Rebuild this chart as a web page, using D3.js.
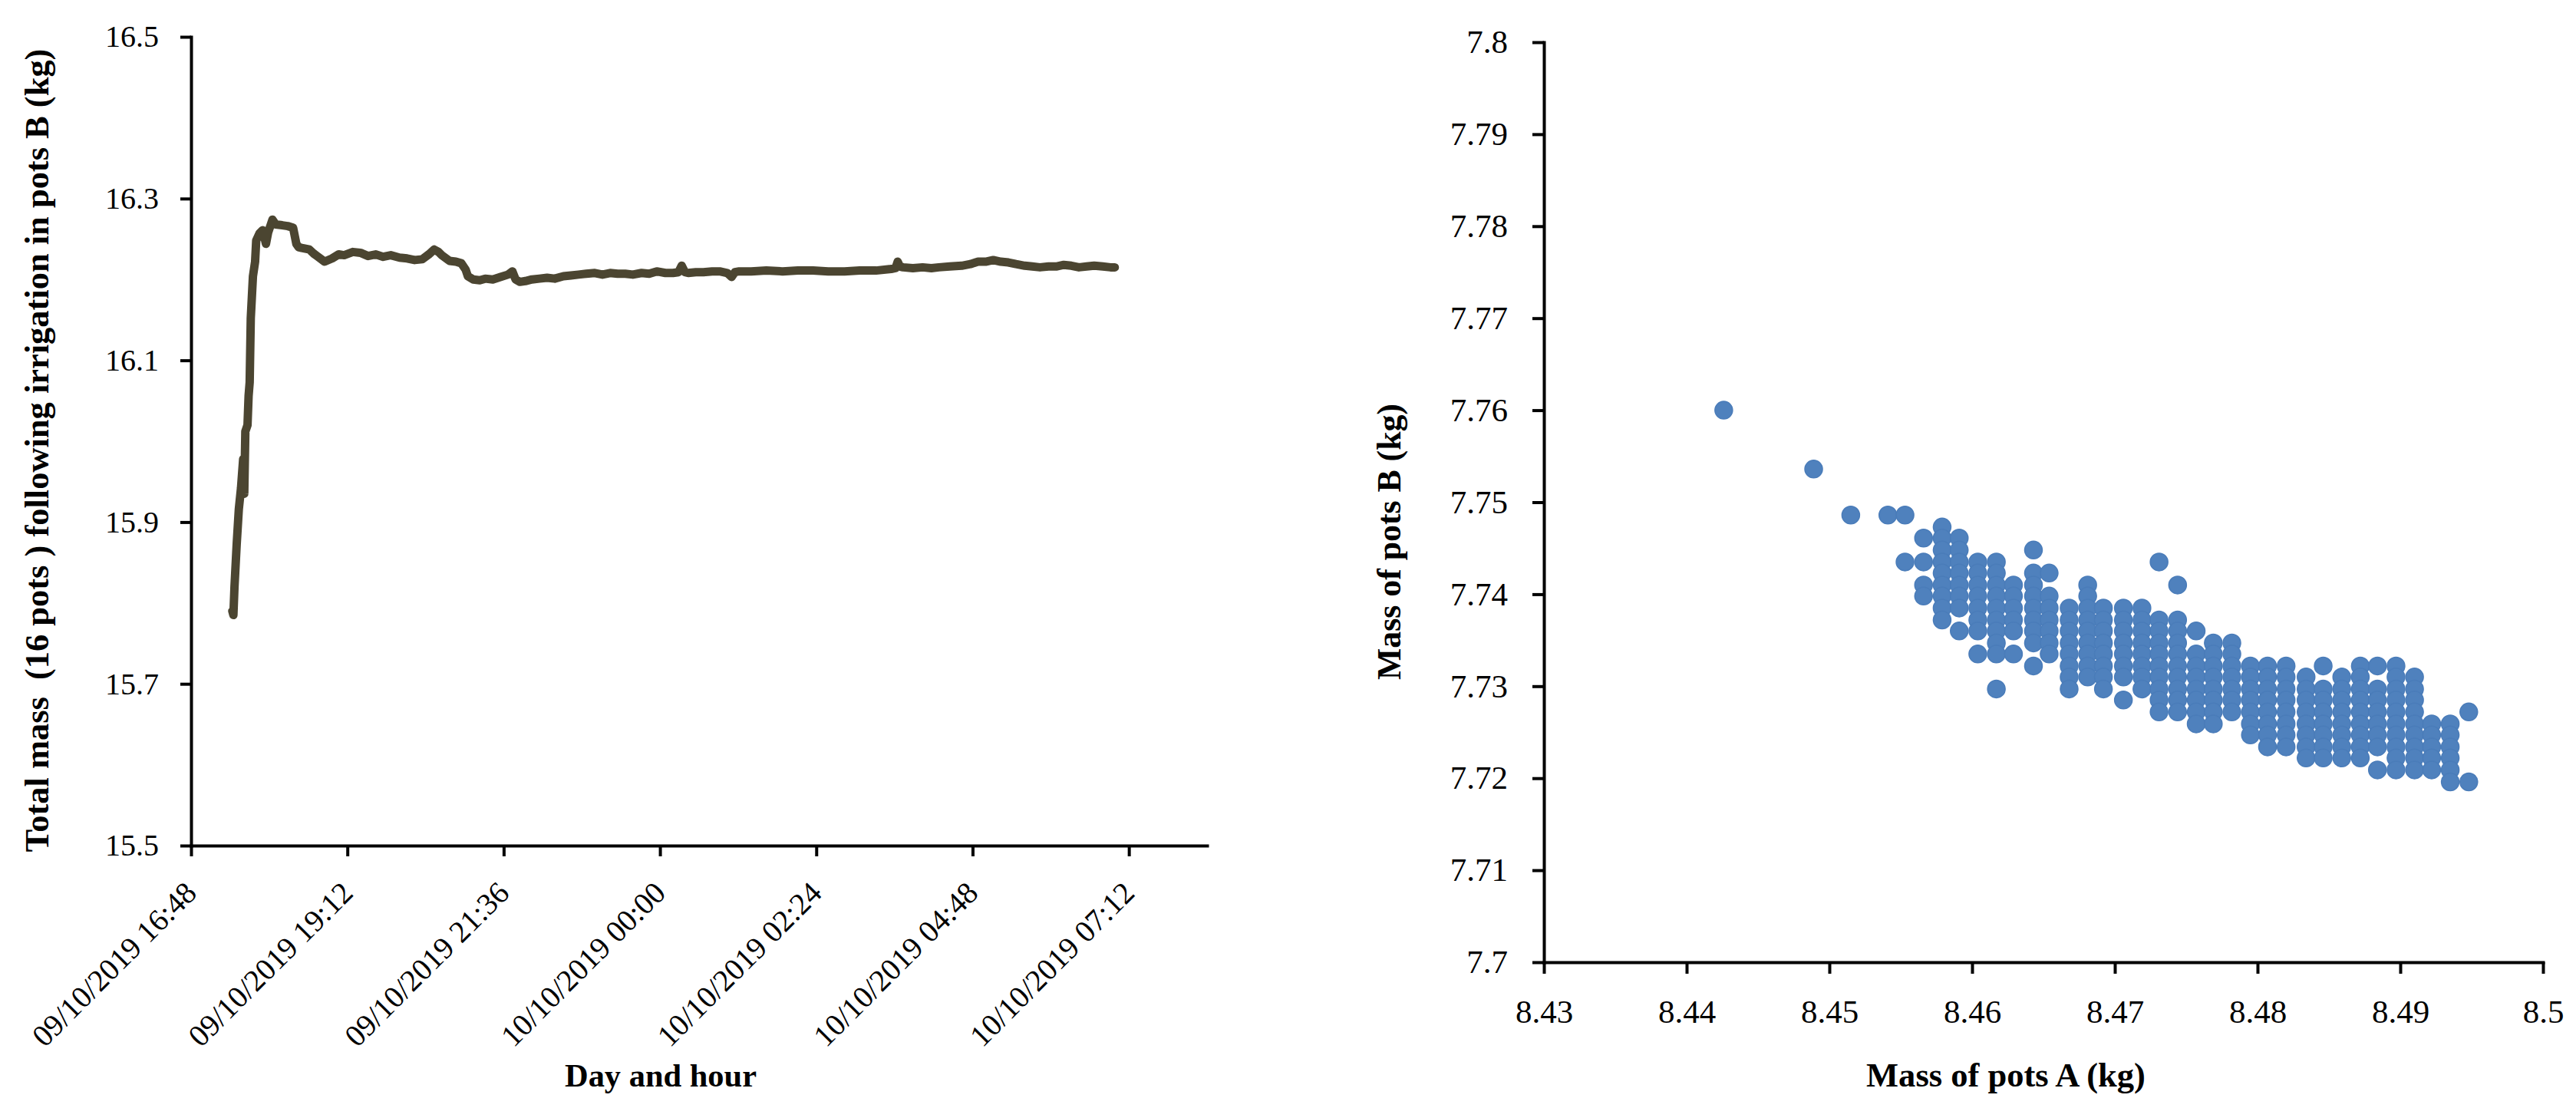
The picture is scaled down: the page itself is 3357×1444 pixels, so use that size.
<!DOCTYPE html>
<html>
<head>
<meta charset="utf-8">
<script src="https://cdn.jsdelivr.net/npm/d3@7"></script>
<style>
body { margin: 0; background: #fff; }
text { font-family: "Liberation Serif", "DejaVu Serif", serif; fill: #000; }
</style>
</head>
<body>
<script>

// left chart: total mass of pots B after irrigation
var lineTimes = [
    '2019-10-09 17:26', '2019-10-09 17:27', '2019-10-09 17:28', '2019-10-09 17:30', '2019-10-09 17:32',
    '2019-10-09 17:34', '2019-10-09 17:36', '2019-10-09 17:37', '2019-10-09 17:38', '2019-10-09 17:40',
    '2019-10-09 17:41', '2019-10-09 17:42', '2019-10-09 17:43', '2019-10-09 17:44', '2019-10-09 17:45',
    '2019-10-09 17:47', '2019-10-09 17:48', '2019-10-09 17:51', '2019-10-09 17:54', '2019-10-09 17:57',
    '2019-10-09 17:59', '2019-10-09 18:03', '2019-10-09 18:06', '2019-10-09 18:12', '2019-10-09 18:17',
    '2019-10-09 18:22', '2019-10-09 18:25', '2019-10-09 18:27', '2019-10-09 18:30', '2019-10-09 18:37',
    '2019-10-09 18:41', '2019-10-09 18:44', '2019-10-09 18:51', '2019-10-09 18:58', '2019-10-09 19:04',
    '2019-10-09 19:09', '2019-10-09 19:17', '2019-10-09 19:24', '2019-10-09 19:31', '2019-10-09 19:38',
    '2019-10-09 19:45', '2019-10-09 19:52', '2019-10-09 20:00', '2019-10-09 20:07', '2019-10-09 20:14',
    '2019-10-09 20:21', '2019-10-09 20:27', '2019-10-09 20:32', '2019-10-09 20:36', '2019-10-09 20:39',
    '2019-10-09 20:46', '2019-10-09 20:52', '2019-10-09 20:57', '2019-10-09 21:01', '2019-10-09 21:03',
    '2019-10-09 21:08', '2019-10-09 21:14', '2019-10-09 21:19', '2019-10-09 21:26', '2019-10-09 21:33',
    '2019-10-09 21:40', '2019-10-09 21:44', '2019-10-09 21:47', '2019-10-09 21:51', '2019-10-09 21:56',
    '2019-10-09 22:02', '2019-10-09 22:09', '2019-10-09 22:16', '2019-10-09 22:23', '2019-10-09 22:31',
    '2019-10-09 22:38', '2019-10-09 22:45', '2019-10-09 22:52', '2019-10-09 23:00', '2019-10-09 23:07',
    '2019-10-09 23:14', '2019-10-09 23:21', '2019-10-09 23:28', '2019-10-09 23:35', '2019-10-09 23:43',
    '2019-10-09 23:50', '2019-10-09 23:57', '2019-10-10 00:05', '2019-10-10 00:12', '2019-10-10 00:17',
    '2019-10-10 00:20', '2019-10-10 00:23', '2019-10-10 00:26', '2019-10-10 00:33', '2019-10-10 00:40',
    '2019-10-10 00:48', '2019-10-10 00:55', '2019-10-10 01:02', '2019-10-10 01:06', '2019-10-10 01:09',
    '2019-10-10 01:13', '2019-10-10 01:24', '2019-10-10 01:38', '2019-10-10 01:53', '2019-10-10 02:07',
    '2019-10-10 02:21', '2019-10-10 02:35', '2019-10-10 02:50', '2019-10-10 03:04', '2019-10-10 03:19',
    '2019-10-10 03:33', '2019-10-10 03:37', '2019-10-10 03:39', '2019-10-10 03:41', '2019-10-10 03:44',
    '2019-10-10 03:53', '2019-10-10 04:02', '2019-10-10 04:10', '2019-10-10 04:17', '2019-10-10 04:27',
    '2019-10-10 04:38', '2019-10-10 04:46', '2019-10-10 04:53', '2019-10-10 05:00', '2019-10-10 05:07',
    '2019-10-10 05:14', '2019-10-10 05:21', '2019-10-10 05:28', '2019-10-10 05:36', '2019-10-10 05:43',
    '2019-10-10 05:50', '2019-10-10 05:58', '2019-10-10 06:05', '2019-10-10 06:12', '2019-10-10 06:19',
    '2019-10-10 06:26', '2019-10-10 06:33', '2019-10-10 06:40', '2019-10-10 06:48', '2019-10-10 06:55',
    '2019-10-10 06:59'
];
var lineMass = [
    15.790, 15.785, 15.820, 15.872, 15.916,
    15.942, 15.978, 15.935, 16.012, 16.020,
    16.056, 16.073, 16.152, 16.178, 16.204,
    16.222, 16.248, 16.257, 16.261, 16.244,
    16.258, 16.274, 16.268, 16.267, 16.266,
    16.264, 16.244, 16.240, 16.239, 16.237,
    16.232, 16.229, 16.222, 16.226, 16.231,
    16.230, 16.234, 16.233, 16.229, 16.231,
    16.228, 16.230, 16.227, 16.226, 16.224,
    16.225, 16.231, 16.237, 16.234, 16.230,
    16.223, 16.222, 16.220, 16.212, 16.204,
    16.200, 16.199, 16.201, 16.200, 16.203,
    16.206, 16.210, 16.200, 16.197, 16.198,
    16.200, 16.201, 16.202, 16.201, 16.204,
    16.205, 16.206, 16.207, 16.208, 16.206,
    16.208, 16.207, 16.207, 16.206, 16.208,
    16.207, 16.210, 16.208, 16.208, 16.209,
    16.217, 16.209, 16.208, 16.209, 16.209,
    16.210, 16.210, 16.208, 16.203, 16.209,
    16.210, 16.210, 16.211, 16.210, 16.211,
    16.211, 16.210, 16.210, 16.211, 16.211,
    16.213, 16.214, 16.222, 16.216, 16.215,
    16.214, 16.215, 16.214, 16.215, 16.216,
    16.217, 16.219, 16.222, 16.222, 16.224,
    16.222, 16.221, 16.219, 16.217, 16.216,
    16.215, 16.216, 16.216, 16.218, 16.217,
    16.215, 16.216, 16.217, 16.216, 16.215,
    16.215
];
var timeDomain = ['2019-10-09 16:48', '2019-10-10 08:24'];
var timeTicks = ['2019-10-09 16:48', '2019-10-09 19:12', '2019-10-09 21:36', '2019-10-10 00:00',
                 '2019-10-10 02:24', '2019-10-10 04:48', '2019-10-10 07:12'];
var massTicks = [15.5, 15.7, 15.9, 16.1, 16.3, 16.5];

// right chart: mass of pots A vs mass of pots B (one column per reading of A)
var potsA = [8.4426, 8.4489, 8.4515, 8.4541, 8.4553, 8.4566, 8.4579, 8.4591, 8.4604, 8.4617,
             8.4629, 8.4643, 8.4654, 8.4668, 8.4681, 8.4692, 8.4706, 8.4719, 8.4731, 8.4744,
             8.4757, 8.4769, 8.4782, 8.4795, 8.4807, 8.4820, 8.4834, 8.4846, 8.4859, 8.4872,
             8.4884, 8.4897, 8.4910, 8.4922, 8.4935, 8.4948];
var potsB = [
    [7.7600],
    [7.7536],
    [7.7486],
    [7.7486],
    [7.7486, 7.7435],
    [7.7461, 7.7435, 7.7410, 7.7398],
    [7.7473, 7.7461, 7.7448, 7.7435, 7.7423, 7.7410, 7.7398, 7.7385, 7.7372],
    [7.7461, 7.7448, 7.7435, 7.7423, 7.7410, 7.7398, 7.7385, 7.7360],
    [7.7435, 7.7423, 7.7410, 7.7398, 7.7385, 7.7372, 7.7360, 7.7335],
    [7.7435, 7.7423, 7.7410, 7.7398, 7.7385, 7.7372, 7.7360, 7.7347, 7.7335, 7.7297],
    [7.7410, 7.7398, 7.7385, 7.7372, 7.7360, 7.7335],
    [7.7448, 7.7423, 7.7410, 7.7398, 7.7385, 7.7372, 7.7360, 7.7347, 7.7322],
    [7.7423, 7.7398, 7.7385, 7.7372, 7.7360, 7.7347, 7.7335],
    [7.7385, 7.7372, 7.7360, 7.7347, 7.7335, 7.7322, 7.7310, 7.7297],
    [7.7410, 7.7398, 7.7385, 7.7372, 7.7360, 7.7347, 7.7335, 7.7322, 7.7310],
    [7.7385, 7.7372, 7.7360, 7.7347, 7.7335, 7.7322, 7.7310, 7.7297],
    [7.7385, 7.7372, 7.7360, 7.7347, 7.7335, 7.7322, 7.7310, 7.7285],
    [7.7385, 7.7372, 7.7360, 7.7347, 7.7335, 7.7322, 7.7310, 7.7297],
    [7.7435, 7.7372, 7.7360, 7.7347, 7.7335, 7.7322, 7.7310, 7.7297, 7.7285, 7.7272],
    [7.7410, 7.7372, 7.7360, 7.7347, 7.7335, 7.7322, 7.7310, 7.7297, 7.7285, 7.7272],
    [7.7360, 7.7335, 7.7322, 7.7310, 7.7297, 7.7285, 7.7272, 7.7259],
    [7.7347, 7.7335, 7.7322, 7.7310, 7.7297, 7.7285, 7.7272, 7.7259],
    [7.7347, 7.7335, 7.7322, 7.7310, 7.7297, 7.7285, 7.7272],
    [7.7322, 7.7310, 7.7297, 7.7285, 7.7272, 7.7259, 7.7247],
    [7.7322, 7.7310, 7.7297, 7.7285, 7.7272, 7.7259, 7.7247, 7.7234],
    [7.7322, 7.7310, 7.7297, 7.7285, 7.7272, 7.7259, 7.7247, 7.7234],
    [7.7310, 7.7297, 7.7285, 7.7272, 7.7259, 7.7247, 7.7234, 7.7222],
    [7.7322, 7.7297, 7.7285, 7.7272, 7.7259, 7.7247, 7.7234, 7.7222],
    [7.7310, 7.7297, 7.7285, 7.7272, 7.7259, 7.7247, 7.7234, 7.7222],
    [7.7322, 7.7310, 7.7297, 7.7285, 7.7272, 7.7259, 7.7247, 7.7234, 7.7222],
    [7.7322, 7.7297, 7.7285, 7.7272, 7.7259, 7.7247, 7.7234, 7.7209],
    [7.7322, 7.7310, 7.7297, 7.7285, 7.7272, 7.7259, 7.7247, 7.7234, 7.7222, 7.7209],
    [7.7310, 7.7297, 7.7285, 7.7272, 7.7259, 7.7247, 7.7234, 7.7222, 7.7209],
    [7.7259, 7.7247, 7.7234, 7.7222, 7.7209],
    [7.7259, 7.7247, 7.7234, 7.7222, 7.7209, 7.7196],
    [7.7272, 7.7196]
];
var potsATicks = [8.43, 8.44, 8.45, 8.46, 8.47, 8.48, 8.49, 8.5];
var potsBTicks = [7.7, 7.71, 7.72, 7.73, 7.74, 7.75, 7.76, 7.77, 7.78, 7.79, 7.8];


var svg = d3.select('body').append('svg')
    .attr('width', 3357)
    .attr('height', 1444);

drawLine();
drawScatter();


function styleAxis(g, fontSize) {
    g.attr('font-family', null).attr('font-size', null);
    g.select('.domain').attr('stroke', '#000').attr('stroke-width', 4).attr('stroke-linecap', 'square');
    g.selectAll('.tick line').attr('stroke', '#000').attr('stroke-width', 4);
    g.selectAll('.tick text').attr('font-size', fontSize).attr('fill', '#000');
}

// grow or shrink the font so the title covers the same length as in the figure
function fitTitle(text, target) {
    var len = text.node().getComputedTextLength();
    var fs = parseFloat(text.attr('font-size'));
    text.attr('font-size', fs * target / len);
}

function drawLine() {

    var parse = d3.timeParse('%Y-%m-%d %H:%M');
    var data = lineTimes.map(function(t, i) { return { t: parse(t), m: lineMass[i] }; });

    var x = d3.scaleTime()
        .domain(timeDomain.map(parse))
        .range([249, 1573]);

    var y = d3.scaleLinear()
        .domain([15.5, 16.5])
        .range([1102, 48]);

    var xAxis = svg.append('g')
        .attr('transform', 'translate(0,1102)')
        .call(d3.axisBottom(x)
            .tickValues(timeTicks.map(parse))
            .tickFormat(d3.timeFormat('%d/%m/%Y %H:%M'))
            .tickSize(14)
            .tickSizeOuter(0));
    styleAxis(xAxis, 40);
    xAxis.selectAll('.tick text')
        .attr('x', 0)
        .attr('y', 0)
        .attr('dy', null)
        .attr('text-anchor', 'end')
        .attr('transform', 'translate(9,64) rotate(-45)');

    var yAxis = svg.append('g')
        .attr('transform', 'translate(249,0)')
        .call(d3.axisLeft(y)
            .tickValues(massTicks)
            .tickFormat(d3.format('.1f'))
            .tickSize(14)
            .tickPadding(28)
            .tickSizeOuter(0));
    styleAxis(yAxis, 40);

    var line = d3.line()
        .x(function(d) { return x(d.t); })
        .y(function(d) { return y(d.m); });

    svg.append('path')
        .datum(data)
        .attr('d', line)
        .attr('fill', 'none')
        .attr('stroke', '#4b4531')
        .attr('stroke-width', 11)
        .attr('stroke-linejoin', 'round')
        .attr('stroke-linecap', 'round');

    var yTitle = svg.append('text')
        .attr('transform', 'translate(63,587) rotate(-90)')
        .attr('text-anchor', 'middle')
        .attr('font-weight', 'bold')
        .attr('font-size', 40)
        .style('white-space', 'pre')
        .text('Total mass  (16 pots ) following irrigation in pots B (kg)');
    fitTitle(yTitle, 1047);

    var xTitle = svg.append('text')
        .attr('x', 861)
        .attr('y', 1416)
        .attr('text-anchor', 'middle')
        .attr('font-weight', 'bold')
        .attr('font-size', 42)
        .text('Day and hour');
    fitTitle(xTitle, 250);
}

function drawScatter() {

    var points = d3.merge(potsB.map(function(ys, i) {
        return ys.map(function(b) { return { a: potsA[i], b: b }; });
    }));

    var x = d3.scaleLinear()
        .domain([8.43, 8.5])
        .range([2012, 3314]);

    var y = d3.scaleLinear()
        .domain([7.7, 7.8])
        .range([1254, 55]);

    var xAxis = svg.append('g')
        .attr('transform', 'translate(0,1254)')
        .call(d3.axisBottom(x)
            .tickValues(potsATicks)
            .tickFormat(function(d) { return String(d); })
            .tickSize(15)
            .tickSizeOuter(0));
    styleAxis(xAxis, 43);
    xAxis.selectAll('.tick text')
        .attr('y', 64)
        .attr('dy', '0.35em');

    var yAxis = svg.append('g')
        .attr('transform', 'translate(2012,0)')
        .call(d3.axisLeft(y)
            .tickValues(potsBTicks)
            .tickFormat(function(d) { return String(d); })
            .tickSize(15)
            .tickPadding(32)
            .tickSizeOuter(0));
    styleAxis(yAxis, 43);

    svg.append('g').selectAll('circle')
        .data(points)
        .enter().append('circle')
            .attr('cx', function(d) { return x(d.a); })
            .attr('cy', function(d) { return y(d.b); })
            .attr('r', 11.5)
            .attr('fill', '#4f81bd')
            .attr('stroke', '#4a7cb9')
            .attr('stroke-width', 1.5);

    var yTitle = svg.append('text')
        .attr('transform', 'translate(1825,706) rotate(-90)')
        .attr('text-anchor', 'middle')
        .attr('font-weight', 'bold')
        .attr('font-size', 42)
        .text('Mass of pots B (kg)');
    fitTitle(yTitle, 360);

    var xTitle = svg.append('text')
        .attr('x', 2614)
        .attr('y', 1416)
        .attr('text-anchor', 'middle')
        .attr('font-weight', 'bold')
        .attr('font-size', 42)
        .text('Mass of pots A (kg)');
    fitTitle(xTitle, 364);
}

</script>
</body>
</html>
